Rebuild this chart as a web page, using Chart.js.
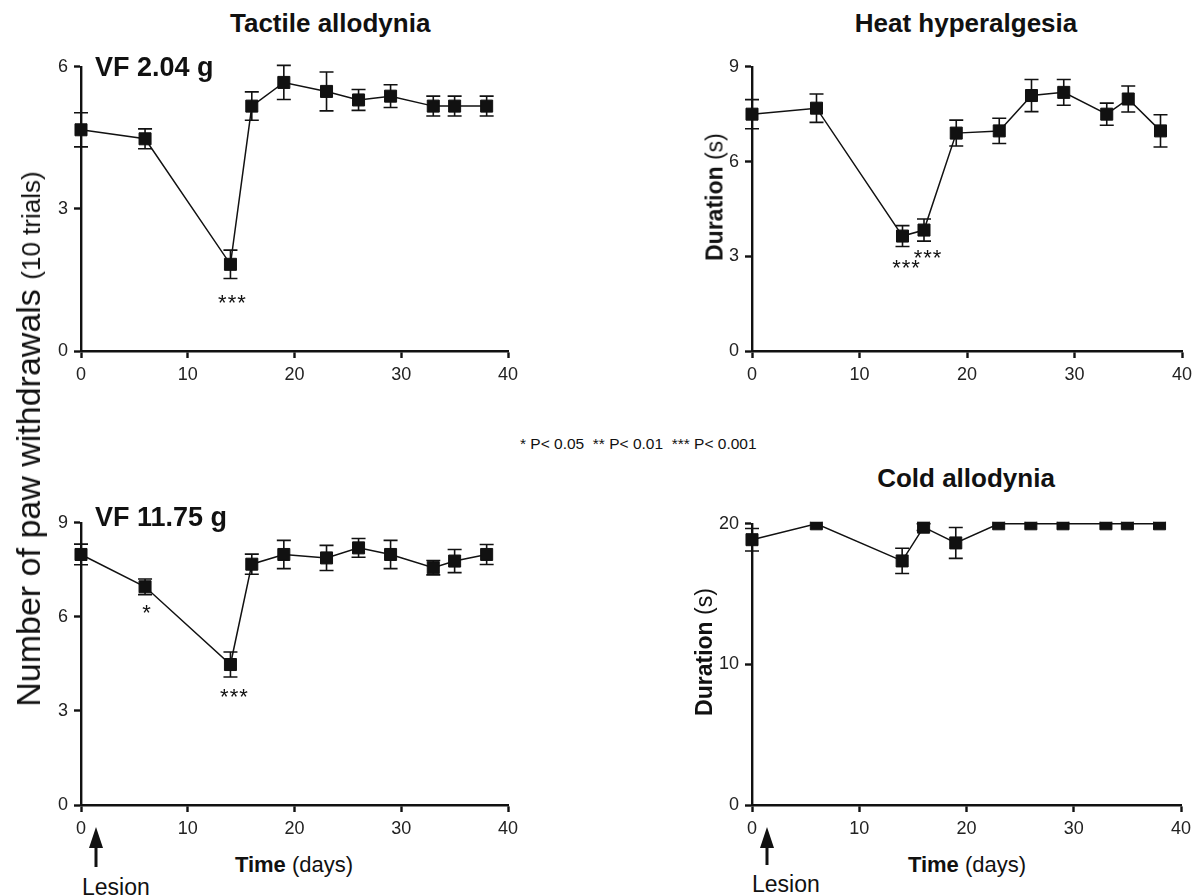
<!DOCTYPE html>
<html><head><meta charset="utf-8">
<script src="https://cdn.jsdelivr.net/npm/chart.js@4.4.1/dist/chart.umd.min.js"></script>
<style>
html,body{margin:0;padding:0;background:#fff;}
#root{position:relative;width:1197px;height:896px;overflow:hidden;font-family:Arial,"Liberation Sans",Helvetica,sans-serif;color:#111;}
.box{position:absolute;}
.t{position:absolute;white-space:nowrap;line-height:1;}
.b{font-weight:bold;}
.rot{position:absolute;white-space:nowrap;line-height:1;transform:translate(-50%,-50%) rotate(-90deg);}
</style></head><body><div id="root">
<div class="box" id="bTL"><canvas id="cTL"></canvas></div>
<div class="box" id="bTR"><canvas id="cTR"></canvas></div>
<div class="box" id="bBL"><canvas id="cBL"></canvas></div>
<div class="box" id="bBR"><canvas id="cBR"></canvas></div>

<div class="t b" style="font-size:26px;left:230px;top:10px;">Tactile allodynia</div>
<div class="t b" style="font-size:26px;left:966px;top:10px;transform:translateX(-50%);">Heat hyperalgesia</div>
<div class="t b" style="font-size:26px;left:966px;top:465px;transform:translateX(-50%);">Cold allodynia</div>
<div class="t b" style="font-size:27px;left:95px;top:54px;">VF 2.04 g</div>
<div class="t b" style="font-size:27px;left:95px;top:504px;">VF 11.75 g</div>
<div class="t" style="font-size:15.5px;left:520px;top:436px;">* P&lt; 0.05&nbsp; ** P&lt; 0.01&nbsp; *** P&lt; 0.001</div>
<div class="t" style="font-size:22px;left:294px;top:854px;transform:translateX(-50%);"><span class="b">Time</span> (days)</div>
<div class="t" style="font-size:22px;left:967px;top:854px;transform:translateX(-50%);"><span class="b">Time</span> (days)</div>
<div class="t" style="font-size:23px;left:82px;top:876px;">Lesion</div>
<div class="t" style="font-size:23px;left:752px;top:873px;">Lesion</div>
<div class="rot" style="left:28px;top:439px;font-size:34px;">Number of paw withdrawals <span style="font-size:26px;">(10 trials)</span></div>
<div class="rot" style="left:715px;top:197px;font-size:23px;"><span class="b">Duration</span> (s)</div>
<div class="rot" style="left:704px;top:652px;font-size:23px;"><span class="b">Duration</span> (s)</div>
<svg style="position:absolute;left:0;top:0;" width="1197" height="896">
  <polygon points="89,848 103,848 96,827" fill="#111"/>
  <line x1="96" y1="846" x2="96" y2="867" stroke="#111" stroke-width="3"/>
  <polygon points="760,848 774,848 767,827" fill="#111"/>
  <line x1="767" y1="846" x2="767" y2="865" stroke="#111" stroke-width="3"/>
</svg>
</div>
<script>
// ---- data ----
const days = [0, 6, 14, 16, 19, 23, 26, 29, 33, 35, 38];
const xTicks = [0, 10, 20, 30, 40];

const tactileLowMean = [4.67, 4.48, 1.83, 5.17, 5.67, 5.48, 5.30, 5.38, 5.17, 5.17, 5.17];
const tactileLowSem  = [0.36, 0.21, 0.30, 0.30, 0.36, 0.41, 0.22, 0.24, 0.21, 0.21, 0.21];
const tactileLowSig  = ['', '', '***', '', '', '', '', '', '', '', ''];
const tactileLowTicks = [0, 3, 6];

const heatMean = [7.50, 7.69, 3.64, 3.83, 6.90, 6.97, 8.09, 8.19, 7.50, 7.98, 6.97];
const heatSem  = [0.46, 0.45, 0.33, 0.35, 0.41, 0.40, 0.51, 0.41, 0.35, 0.41, 0.51];
const heatSig  = ['', '', '***', '***', '', '', '', '', '', '', ''];
const heatTicks = [0, 3, 6, 9];

const tactileHighMean = [7.99, 6.96, 4.48, 7.68, 7.99, 7.88, 8.20, 7.99, 7.57, 7.78, 7.99];
const tactileHighSem  = [0.33, 0.25, 0.40, 0.32, 0.45, 0.40, 0.30, 0.45, 0.23, 0.37, 0.32];
const tactileHighSig  = ['', '*', '***', '', '', '', '', '', '', '', ''];
const tactileHighTicks = [0, 3, 6, 9];

const coldMean = [18.87, 20, 17.36, 19.76, 18.64, 20, 20, 20, 20, 20, 20];
const coldSem  = [0.80, 0, 0.90, 0.24, 1.10, 0, 0, 0, 0, 0, 0];
const coldSig  = ['', '', '', '', '', '', '', '', '', '', ''];
const coldTicks = [0, 10, 20];

// ---- plugins ----
const errorBars = {
  id: 'errorBars',
  beforeDatasetsDraw(chart) {
    const ctx = chart.ctx, xs = chart.scales.x, ys = chart.scales.y;
    chart.data.datasets.forEach(ds => {
      if (!ds.errors) return;
      ctx.save();
      ctx.strokeStyle = '#111'; ctx.lineWidth = 1.6;
      const cap = 7;
      ds.data.forEach((p, i) => {
        const e = ds.errors[i]; if (!e) return;
        const px = xs.getPixelForValue(p.x);
        const t = ys.getPixelForValue(p.y + e), b = ys.getPixelForValue(p.y - e);
        ctx.beginPath();
        ctx.moveTo(px, t); ctx.lineTo(px, b);
        ctx.moveTo(px - cap, t); ctx.lineTo(px + cap, t);
        ctx.moveTo(px - cap, b); ctx.lineTo(px + cap, b);
        ctx.stroke();
      });
      ctx.restore();
    });
  }
};
const sigMarks = {
  id: 'sigMarks',
  afterDatasetsDraw(chart, args, opts) {
    const ctx = chart.ctx, xs = chart.scales.x, ys = chart.scales.y;
    const offs = opts.offsets || {};
    chart.data.datasets.forEach(ds => {
      if (!ds.sig) return;
      ctx.save();
      ctx.fillStyle = '#111';
      ctx.font = '22px Arial, "Liberation Sans", sans-serif';
      if ('letterSpacing' in ctx) ctx.letterSpacing = '1px';
      ctx.textAlign = 'center'; ctx.textBaseline = 'alphabetic';
      ds.data.forEach((p, i) => {
        const s = ds.sig[i]; if (!s) return;
        const o = offs[i] || [0, 28];
        const px = xs.getPixelForValue(p.x) + o[0];
        const py = ys.getPixelForValue(p.y) + o[1] + 12.5;
        ctx.fillText(s, px, py);
      });
      ctx.restore();
    });
  }
};

function makeChart(id, area, mean, sem, sig, yTicks, offsets, clipTop) {
  const padL = 50, padT = 15, padR = 20, padB = 40;
  const box = document.getElementById('b' + id);
  box.style.left = (area.L - padL) + 'px';
  box.style.top = (area.T - padT) + 'px';
  box.style.width = (area.R - area.L + padL + padR) + 'px';
  box.style.height = (area.B - area.T + padT + padB) + 'px';
  const ymax = yTicks[yTicks.length - 1];
  const tickFont = { family: 'Arial, "Liberation Sans", sans-serif', size: 18 };
  new Chart(document.getElementById('c' + id), {
    type: 'line',
    data: {
      datasets: [{
        data: days.map((d, i) => ({ x: d, y: mean[i] })),
        errors: sem, sig: sig,
        borderColor: '#111', borderWidth: 1.5, tension: 0,
        pointStyle: 'rect', pointRadius: 8.5, pointHoverRadius: 8.5,
        pointBackgroundColor: '#111', pointBorderColor: '#111', pointBorderWidth: 1,
        clip: clipTop ? { left: false, top: 2, right: false, bottom: false } : false
      }]
    },
    options: {
      responsive: true, maintainAspectRatio: false, animation: false, events: [],
      layout: { padding: { left: 0, top: padT, right: padR, bottom: 0 } },
      plugins: { legend: { display: false }, tooltip: { enabled: false }, sigMarks: { offsets } },
      scales: {
        x: {
          type: 'linear', min: 0, max: 40,
          afterBuildTicks: s => { s.ticks = xTicks.map(v => ({ value: v })); },
          afterFit: s => { s.height = padB; },
          ticks: { font: tickFont, color: '#222', padding: 6, maxRotation: 0 },
          grid: { display: true, drawOnChartArea: false, drawTicks: true, tickLength: 7, tickWidth: 2.4, tickColor: '#111' },
          border: { display: true, color: '#111', width: 2.4 }
        },
        y: {
          type: 'linear', min: 0, max: ymax,
          afterBuildTicks: s => { s.ticks = yTicks.map(v => ({ value: v })); },
          afterFit: s => { s.width = padL; },
          ticks: { font: tickFont, color: '#222', padding: 6 },
          grid: { display: true, drawOnChartArea: false, drawTicks: true, tickLength: 7, tickWidth: 2.4, tickColor: '#111' },
          border: { display: true, color: '#111', width: 2.4 }
        }
      }
    },
    plugins: [errorBars, sigMarks]
  });
}

makeChart('TL', { L: 81, T: 65, R: 508, B: 351 }, tactileLowMean, tactileLowSem, tactileLowSig, tactileLowTicks, { 2: [2, 33] }, false);
makeChart('TR', { L: 752, T: 65, R: 1182, B: 351 }, heatMean, heatSem, heatSig, heatTicks, { 2: [4, 26], 3: [4, 22] }, false);
makeChart('BL', { L: 81, T: 521, R: 508, B: 805 }, tactileHighMean, tactileHighSem, tactileHighSig, tactileHighTicks, { 1: [2, 21], 2: [4, 27] }, false);
makeChart('BR', { L: 752, T: 522, R: 1181, B: 805 }, coldMean, coldSem, coldSig, coldTicks, {}, true);
</script>
</body></html>
